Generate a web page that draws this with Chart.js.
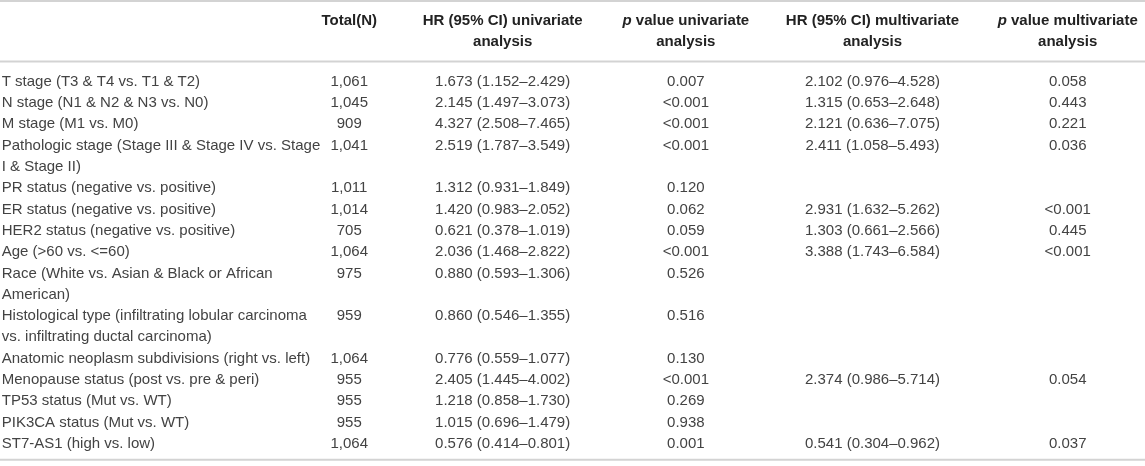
<!DOCTYPE html>
<html>
<head>
<meta charset="utf-8">
<script src="https://cdn.jsdelivr.net/npm/chart.js@4"></script>
<style>
  html, body { margin: 0; padding: 0; background: #fff; }
  #wrap { width: 1145px; height: 466px; }
</style>
</head>
<body>
<div id="wrap"><canvas id="tableChart" width="1145" height="466"></canvas></div>
<script>
// ---- table values ----
const variables = [
    ["T stage (T3 & T4 vs. T1 & T2)"],
    ["N stage (N1 & N2 & N3 vs. N0)"],
    ["M stage (M1 vs. M0)"],
    ["Pathologic stage (Stage III & Stage IV vs. Stage", "I & Stage II)"],
    ["PR status (negative vs. positive)"],
    ["ER status (negative vs. positive)"],
    ["HER2 status (negative vs. positive)"],
    ["Age (>60 vs. <=60)"],
    ["Race (White vs. Asian & Black or African", "American)"],
    ["Histological type (infiltrating lobular carcinoma", "vs. infiltrating ductal carcinoma)"],
    ["Anatomic neoplasm subdivisions (right vs. left)"],
    ["Menopause status (post vs. pre & peri)"],
    ["TP53 status (Mut vs. WT)"],
    ["PIK3CA status (Mut vs. WT)"],
    ["ST7-AS1 (high vs. low)"],
];
const totalN = [1061, 1045, 909, 1041, 1011, 1014, 705, 1064, 975, 959, 1064, 955, 955, 955, 1064];

const hrUni   = [1.673, 2.145, 4.327, 2.519, 1.312, 1.420, 0.621, 2.036, 0.880, 0.860, 0.776, 2.405, 1.218, 1.015, 0.576];
const lowUni  = [1.152, 1.497, 2.508, 1.787, 0.931, 0.983, 0.378, 1.468, 0.593, 0.546, 0.559, 1.445, 0.858, 0.696, 0.414];
const highUni = [2.429, 3.073, 7.465, 3.549, 1.849, 2.052, 1.019, 2.822, 1.306, 1.355, 1.077, 4.002, 1.730, 1.479, 0.801];
const pUni = ["0.007", "<0.001", "<0.001", "<0.001", "0.120", "0.062", "0.059", "<0.001", "0.526", "0.516", "0.130", "<0.001", "0.269", "0.938", "0.001"];

const hrMulti   = [2.102, 1.315, 2.121, 2.411, null, 2.931, 1.303, 3.388, null, null, null, 2.374, null, null, 0.541];
const lowMulti  = [0.976, 0.653, 0.636, 1.058, null, 1.632, 0.661, 1.743, null, null, null, 0.986, null, null, 0.304];
const highMulti = [4.528, 2.648, 7.075, 5.493, null, 5.262, 2.566, 6.584, null, null, null, 5.714, null, null, 0.962];
const pMulti = ["0.058", "0.443", "0.221", "0.036", null, "<0.001", "0.445", "<0.001", null, null, null, "0.054", null, null, "0.037"];

const headers = [
    [""],
    ["Total(N)"],
    ["HR (95% CI) univariate", "analysis"],
    ["p value univariate", "analysis"],
    ["HR (95% CI) multivariate", "analysis"],
    ["p value multivariate", "analysis"],
];

// ---- layout (x in percent of table width, y in text-line units) ----
const colPos = [0.15, 30.5, 43.9, 59.9, 76.2, 93.25];
const firstDataLine = 2.85;
const bodyFont = '15px "Liberation Sans", Arial, sans-serif';
const headFont = 'bold 15px "Liberation Sans", Arial, sans-serif';
const headItalicFont = 'italic bold 15px "Liberation Sans", Arial, sans-serif';
const textColor = "#434343";
const headColor = "#222222";
const ruleColor = "#d3d3d3";

function formatHR(hr, lo, hi) {
    if (hr === null) return null;
    return `${hr.toFixed(3)} (${lo.toFixed(3)}\u2013${hi.toFixed(3)})`;
}

// line index of each row (wrapped labels take more lines)
const rowLine = [];
let line = firstDataLine;
variables.forEach((lines) => {
    rowLine.push(line);
    line += lines.length;
});
const lastLine = line - 1;
const rules = [
    { y: -0.95, width: 2.5 },
    { y: firstDataLine - 0.95, width: 2 },
    { y: lastLine + 0.75, width: 2 },
];

const columns = [
    variables.map((l) => l.join("\n")),
    totalN.map((n) => n.toLocaleString("en-US")),
    hrUni.map((hr, i) => formatHR(hr, lowUni[i], highUni[i])),
    pUni,
    hrMulti.map((hr, i) => formatHR(hr, lowMulti[i], highMulti[i])),
    pMulti,
];

// one scatter dataset per column, one invisible point per filled cell
const datasets = columns.map((texts, c) => {
    const rows = texts.map((t, r) => r).filter((r) => texts[r] !== null);
    return {
        label: headers[c].join(" "),
        texts: rows.map((r) => texts[r]),
        align: c === 0 ? "left" : "center",
        data: rows.map((r) => ({ x: colPos[c], y: rowLine[r] })),
        pointRadius: 0,
        showLine: false,
    };
});

const tableText = {
    id: "tableText",
    beforeDatasetsDraw(chart) {
        const { ctx, chartArea, scales } = chart;
        ctx.save();
        ctx.strokeStyle = ruleColor;
        rules.forEach((rule) => {
            const y = scales.y.getPixelForValue(rule.y);
            ctx.lineWidth = rule.width;
            ctx.beginPath();
            ctx.moveTo(chartArea.left, y);
            ctx.lineTo(chartArea.right, y);
            ctx.stroke();
        });
        ctx.restore();
    },
    afterDatasetsDraw(chart) {
        const { ctx, scales } = chart;
        const step = scales.y.getPixelForValue(1) - scales.y.getPixelForValue(0);
        ctx.save();
        ctx.textBaseline = "middle";

        // header cells
        ctx.fillStyle = headColor;
        headers.forEach((lines, c) => {
            const x = scales.x.getPixelForValue(colPos[c]);
            lines.forEach((text, k) => {
                const y = scales.y.getPixelForValue(k);
                if (text.startsWith("p ")) {
                    ctx.font = headItalicFont;
                    const pw = ctx.measureText("p").width;
                    ctx.font = headFont;
                    const rest = text.slice(1);
                    const rw = ctx.measureText(rest).width;
                    const start = x - (pw + rw) / 2;
                    ctx.textAlign = "left";
                    ctx.font = headItalicFont;
                    ctx.fillText("p", start, y);
                    ctx.font = headFont;
                    ctx.fillText(rest, start + pw, y);
                } else {
                    ctx.font = headFont;
                    ctx.textAlign = "center";
                    ctx.fillText(text, x, y);
                }
            });
        });

        // body cells, placed at each point the library laid out
        ctx.font = bodyFont;
        ctx.fillStyle = textColor;
        chart.data.datasets.forEach((ds, i) => {
            const meta = chart.getDatasetMeta(i);
            ctx.textAlign = ds.align;
            meta.data.forEach((pt, r) => {
                ds.texts[r].split("\n").forEach((part, k) => {
                    ctx.fillText(part, pt.x, pt.y + k * step);
                });
            });
        });
        ctx.restore();
    },
};

new Chart(document.getElementById("tableChart"), {
    type: "scatter",
    data: { datasets: datasets },
    options: {
        responsive: false,
        animation: false,
        events: [],
        layout: { padding: 0 },
        scales: {
            x: { type: "linear", min: 0, max: 100, display: false },
            y: { type: "linear", min: -0.985, max: 20.89, reverse: true, display: false },
        },
        plugins: {
            legend: { display: false },
            tooltip: { enabled: false },
        },
    },
    plugins: [tableText],
});
</script>
</body>
</html>
